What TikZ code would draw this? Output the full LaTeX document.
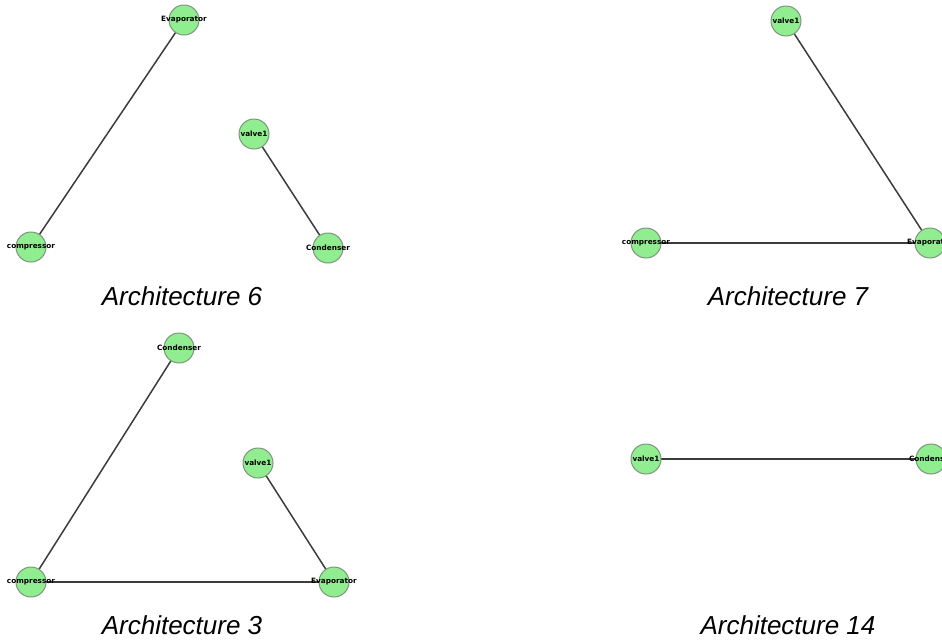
\documentclass[tikz,border=0pt]{standalone}
\usepackage{fontspec}
\setmainfont{Liberation Sans}
\newfontfamily\tagfont{DejaVu Sans}
\usetikzlibrary{backgrounds}
\definecolor{cnode}{HTML}{90EE90}
\definecolor{cring}{HTML}{7E947E}
\definecolor{cedge}{HTML}{3C3C3C}
\tikzset{
  unit/.style={circle, draw=cring, fill=cnode, line width=1pt, minimum size=30pt, inner sep=0pt},
  tag/.style={font=\tagfont\bfseries\fontsize{7.3}{8}\selectfont, inner sep=0pt},
  link/.style={draw=cedge, line width=1.5pt},
  caption/.style={font=\itshape\fontsize{26}{28}\selectfont},
}

\begin{document}
\begin{tikzpicture}[x=1pt, y=-1pt]
  \path[use as bounding box] (0,0) rectangle (942,641);
  % the four layouts, one node list
  \foreach \n/\t/\x/\y in {
      e6/Evaporator/184/20, c6/compressor/31/247, v6/valve1/254/134, k6/Condenser/328/248,
      v7/valve1/786/21, c7/compressor/646/243, e7/Evaporator/930/243,
      k3/Condenser/179/348, v3/valve1/258/463, c3/compressor/31/582, e3/Evaporator/334/582,
      v14/valve1/646/459, k14/Condenser/931/459}
    \node[unit, label={[tag]center:\t}] (\n) at (\x,\y) {};
  % edges go under the circles
  \begin{pgfonlayer}{background}
    \fill[white] (0,0) rectangle (942,641);
    \foreach \a/\b in {e6/c6, v6/k6, v7/e7, c7/e7, k3/c3, v3/e3, c3/e3, v14/k14}
      \draw[link] (\a.center) -- (\b.center);
  \end{pgfonlayer}
  % captions
  \node[caption] (cap6) at (182,296) {Architecture 6};
  \node[caption] (cap7) at (788,296) {Architecture 7};
  \node[caption] (cap3) at (182,625) {Architecture 3};
  \node[caption] (cap14) at (788,625) {Architecture 14};
\end{tikzpicture}
\end{document}
